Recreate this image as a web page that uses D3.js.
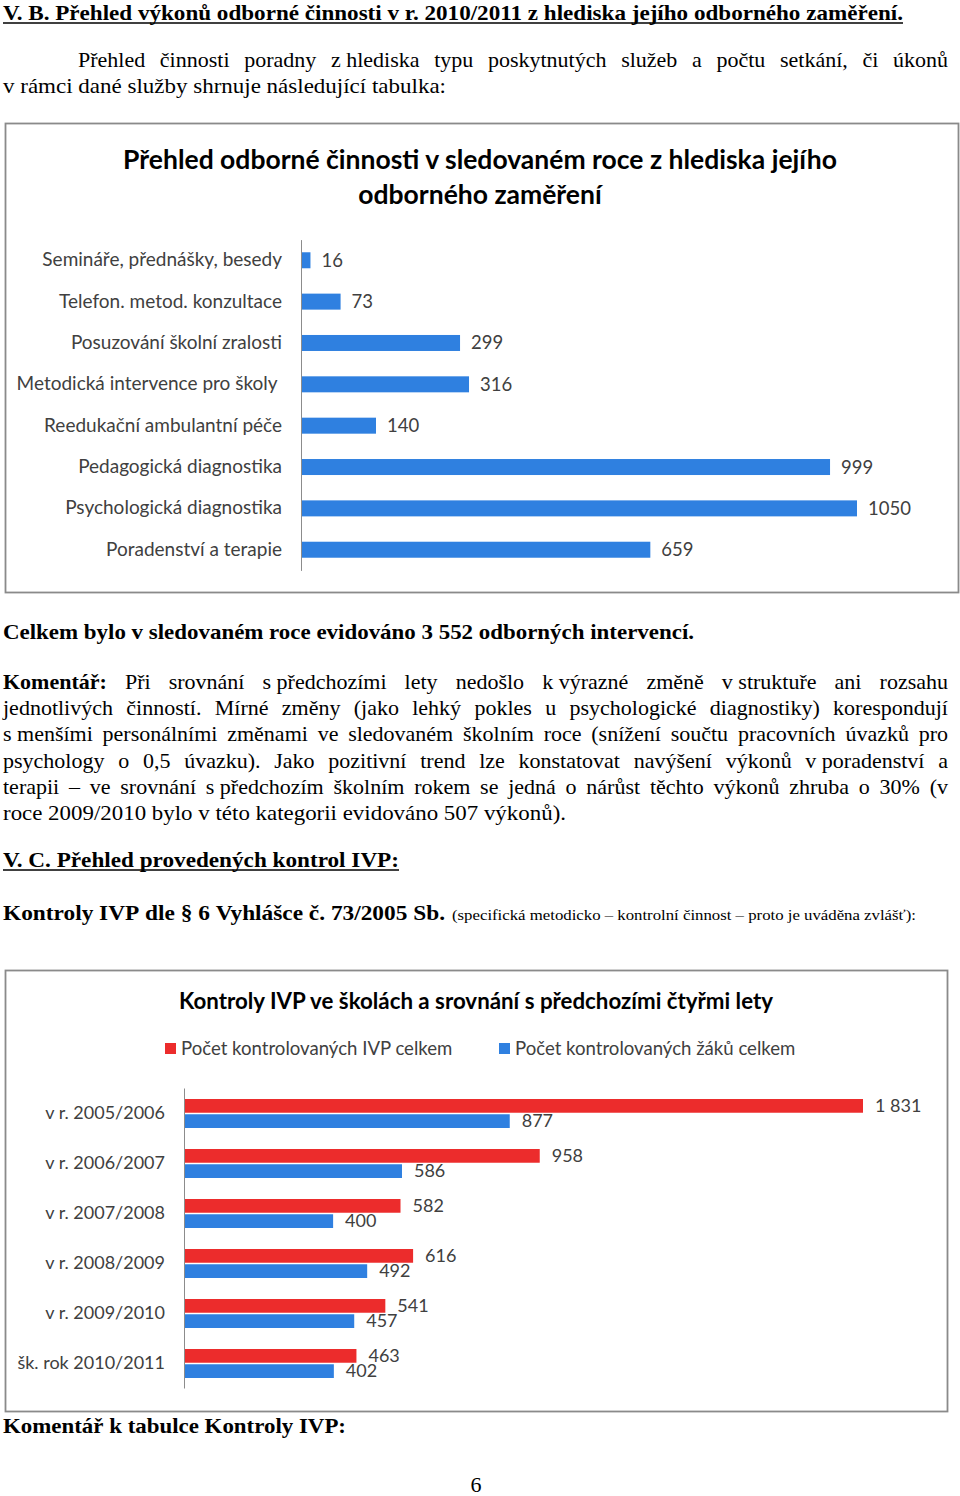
<!DOCTYPE html>
<html><head><meta charset="utf-8">
<script src="https://cdn.jsdelivr.net/npm/d3@7"></script>
<style>body{margin:0;background:#fff} svg{display:block}</style>
</head><body><svg id="page" width="960" height="1496"></svg>
<script>
// ---------- DATA ----------
const categories1 = ["Semináře, přednášky, besedy","Telefon. metod. konzultace","Posuzování školní zralosti","Metodická intervence pro školy ","Reedukační ambulantní péče","Pedagogická diagnostika","Psychologická diagnostika","Poradenství a terapie"];
const values1 = [16, 73, 299, 316, 140, 999, 1050, 659];
const title1 = ["Přehled odborné činnosti v sledovaném roce z hlediska jejího", "odborného zaměření"];

const years2 = ["v r. 2005/2006","v r. 2006/2007","v r. 2007/2008","v r. 2008/2009","v r. 2009/2010","šk. rok 2010/2011"];
const ivp2 = [1831, 958, 582, 616, 541, 463];
const zaci2 = [877, 586, 400, 492, 457, 402];
const seriesNames2 = ["Počet kontrolovaných IVP celkem","Počet kontrolovaných žáků celkem"];
const title2 = "Kontroly IVP ve školách a srovnání s předchozími čtyřmi lety";

// ---------- STYLE ----------
const SERIF = "'Liberation Serif','Times New Roman',serif";
const SANS = "Lato, 'Open Sans', sans-serif";
const BLUE = "#2f80e0", RED = "#ec2c2c", LABEL = "#404040", AXIS = "#8c8c8c", FRAME = "#8a8a8a";

const svg = d3.select("#page");
svg.append("rect").attr("width",960).attr("height",1496).attr("fill","#fff");

// ---------- TEXT HELPERS ----------
// words joined by \u00a0 (Czech one-letter prepositions) are kept together with a fixed narrow gap
function addLine(segs, o) {
  const t = svg.append("text").attr("y", o.y).attr("font-family", SERIF).attr("font-size", o.size).attr("fill", "#000");
  const tokens = [];
  segs.forEach(s => s.text.split(/ +/).filter(w => w).forEach(w => tokens.push({w, bold: s.bold, size: s.size || o.size})));
  const spans = tokens.map(tk => t.append("tspan").text(tk.w).attr("font-weight", tk.bold ? "bold" : "normal").attr("font-size", tk.size));
  const widths = spans.map(s => s.node().getComputedTextLength());
  const sum = d3.sum(widths);
  if (o.justify) {
    let gap = (o.x1 - o.x0 - sum) / (tokens.length - 1);
    let k = 1;
    if (gap < 4) { k = (o.x1 - o.x0 - 4 * (tokens.length - 1)) / sum; gap = 4; }
    let x = o.x0;
    spans.forEach((s, i) => { s.attr("x", x); if (k !== 1) s.attr("textLength", widths[i]*k).attr("lengthAdjust","spacingAndGlyphs"); x += widths[i]*k + gap; });
  } else {
    const sp = (o.size) * 0.25;
    let x = o.x0;
    const natural = sum + sp * (tokens.length - 1);
    const k = (o.x1 - o.x0) / natural;
    spans.forEach((s, i) => { s.attr("x", x).attr("textLength", widths[i]*k).attr("lengthAdjust","spacingAndGlyphs"); x += (widths[i] + sp) * k; });
  }
  if (o.underline) {
    svg.append("line").attr("x1", o.x0).attr("x2", o.x1).attr("y1", o.y + 3).attr("y2", o.y + 3).attr("stroke", "#000").attr("stroke-width", 1.5);
  }
}
const N = "\u00a0";

// ---------- PAGE TEXT ----------
addLine([{text: "V. B. Přehled výkonů odborné činnosti v r. 2010/2011 z hlediska jejího odborného zaměření.", bold: true}], {x0: 3, x1: 903, y: 20, size: 21, underline: true});
addLine([{text: `Přehled činnosti poradny z${N}hlediska typu poskytnutých služeb a počtu setkání, či úkonů`}], {x0: 78, x1: 948, y: 67, size: 22, justify: true});
addLine([{text: "v rámci dané služby shrnuje následující tabulka:"}], {x0: 3, x1: 446, y: 93, size: 22});

addLine([{text: "Celkem bylo v sledovaném roce evidováno 3 552 odborných intervencí.", bold: true}], {x0: 3, x1: 694, y: 639, size: 22});

const kom = [
  [{text: "Komentář:", bold: true}, {text: `Při srovnání s${N}předchozími lety nedošlo k${N}výrazné změně v${N}struktuře ani rozsahu`}],
  [{text: "jednotlivých činností. Mírné změny (jako lehký pokles u psychologické diagnostiky) korespondují"}],
  [{text: `s${N}menšími personálními změnami ve sledovaném školním roce (snížení součtu pracovních úvazků pro`}],
  [{text: `psychology o 0,5 úvazku). Jako pozitivní trend lze konstatovat navýšení výkonů v${N}poradenství a`}],
  [{text: `terapii – ve srovnání s${N}předchozím školním rokem se jedná o nárůst těchto výkonů zhruba o 30% (v`}]
];
kom.forEach((segs, i) => addLine(segs, {x0: 3, x1: 948, y: 689 + i * 26.2, size: 22, justify: true}));
addLine([{text: "roce 2009/2010 bylo v této kategorii evidováno 507 výkonů)."}], {x0: 3, x1: 566, y: 689 + 5 * 26.2, size: 22});

addLine([{text: "V. C. Přehled provedených kontrol IVP:", bold: true}], {x0: 3, x1: 399, y: 867, size: 22, underline: true});
addLine([{text: "Kontroly IVP dle § 6 Vyhlášce  č. 73/2005 Sb.", bold: true}], {x0: 3, x1: 445, y: 920, size: 22});
addLine([{text: "(specifická  metodicko – kontrolní činnost – proto je uváděna zvlášť):"}], {x0: 452, x1: 916, y: 920, size: 15.5});
addLine([{text: "Komentář k tabulce Kontroly IVP:", bold: true}], {x0: 3, x1: 346, y: 1433, size: 22});
svg.append("text").attr("x", 476).attr("y", 1492).attr("text-anchor", "middle").attr("font-family", SERIF).attr("font-size", 22).text("6");

// ---------- CHART 1 ----------
const c1 = svg.append("g");
c1.append("rect").attr("x", 5.5).attr("y", 123.5).attr("width", 953).attr("height", 469).attr("fill", "#fff").attr("stroke", FRAME).attr("stroke-width", 1.8);
c1.selectAll("text.title").data(title1).join("text")
  .attr("x", 480).attr("y", (d, i) => 169 + i * 35).attr("text-anchor", "middle")
  .attr("font-family", SANS).attr("font-weight", "bold").attr("font-size", 26.5).attr("fill", "#000")
  .text(d => d);

const y1 = d3.scaleBand().domain(categories1).range([239.6, 570.4]).paddingInner(0.613).paddingOuter(0.3065);
const x1 = d3.scaleLinear().domain([0, d3.max(values1)]).range([302, 857]);
const ax1 = c1.append("g").attr("transform", "translate(301,0)")
  .call(d3.axisLeft(y1).tickSize(0).tickSizeOuter(0).tickPadding(19));
ax1.select(".domain").attr("stroke", AXIS);
ax1.selectAll("text").attr("font-family", SANS).attr("font-size", 19).attr("fill", LABEL).style("white-space", "pre");

c1.selectAll("rect.bar").data(values1).join("rect").attr("class", "bar")
  .attr("x", x1(0)).attr("y", (d, i) => y1(categories1[i]))
  .attr("width", d => x1(d) - x1(0)).attr("height", y1.bandwidth()).attr("fill", BLUE);
c1.selectAll("text.val").data(values1).join("text").attr("class", "val")
  .attr("x", d => x1(d) + 11).attr("y", (d, i) => y1(categories1[i]) + y1.bandwidth() / 2)
  .attr("dy", "0.35em").attr("font-family", SANS).attr("font-size", 18.5).attr("fill", LABEL)
  .text(d => d3.format("d")(d));

// ---------- CHART 2 ----------
const c2 = svg.append("g");
c2.append("rect").attr("x", 5.5).attr("y", 970.5).attr("width", 942).attr("height", 441).attr("fill", "#fff").attr("stroke", FRAME).attr("stroke-width", 1.8);
c2.append("text").attr("x", 476).attr("y", 1009).attr("text-anchor", "middle")
  .attr("font-family", SANS).attr("font-weight", "bold").attr("font-size", 22.3).attr("fill", "#000").text(title2);

const colors2 = [RED, BLUE];
const legendX = [165, 499];
seriesNames2.forEach((name, i) => {
  c2.append("rect").attr("x", legendX[i]).attr("y", 1043).attr("width", 11).attr("height", 11).attr("fill", colors2[i]);
  c2.append("text").attr("x", legendX[i] + 16).attr("y", 1048.5).attr("dy", "0.35em")
    .attr("font-family", SANS).attr("font-size", 18.6).attr("fill", LABEL).text(name);
});

const y2 = d3.scaleBand().domain(years2).range([1088, 1388]).padding(0);
const ySub = d3.scaleBand().domain(seriesNames2).range([11, 40]).paddingInner(0.1);
const x2 = d3.scaleLinear().domain([0, d3.max(ivp2)]).range([185, 863]);
const ax2 = c2.append("g").attr("transform", "translate(184,0)")
  .call(d3.axisLeft(y2).tickSize(0).tickSizeOuter(0).tickPadding(19));
ax2.select(".domain").attr("stroke", AXIS);
ax2.selectAll("text").attr("font-family", SANS).attr("font-size", 18).attr("fill", LABEL);

const loc = d3.formatLocale({decimal: ",", thousands: "\u00a0", grouping: [3], currency: ["", ""]});
const fmt2 = loc.format(",d");
const seriesVals = [ivp2, zaci2];
seriesVals.forEach((vals, s) => {
  const g = c2.append("g");
  g.selectAll("rect").data(vals).join("rect")
    .attr("x", x2(0)).attr("y", (d, i) => y2(years2[i]) + ySub(seriesNames2[s]))
    .attr("width", d => x2(d) - x2(0)).attr("height", ySub.bandwidth()).attr("fill", colors2[s]);
  g.selectAll("text").data(vals).join("text")
    .attr("x", d => x2(d) + 12).attr("y", (d, i) => y2(years2[i]) + ySub(seriesNames2[s]) + ySub.bandwidth() / 2)
    .attr("dy", "0.35em").attr("font-family", SANS).attr("font-size", 18).attr("fill", LABEL)
    .text(d => fmt2(d));
});
</script></body></html>
